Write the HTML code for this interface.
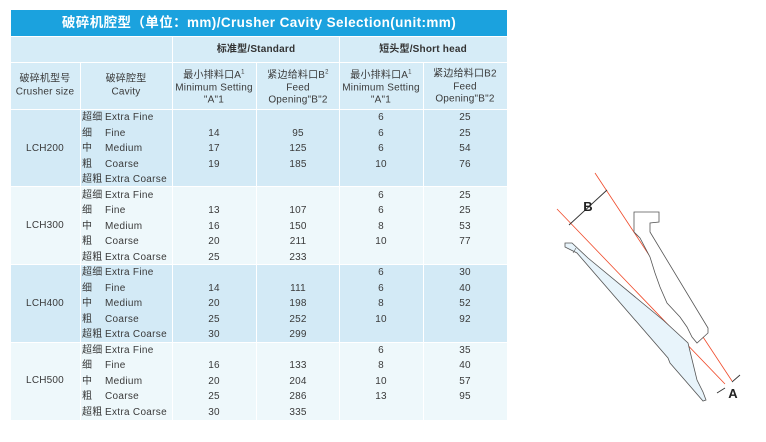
<!DOCTYPE html>
<html><head><meta charset="utf-8"><style>
body{margin:0;width:766px;height:442px;background:#fff;position:relative;overflow:hidden;font-family:"Liberation Sans","Noto Sans CJK SC",sans-serif;color:#3a3a3a}
.b{position:absolute}
.t{position:absolute;font-size:10px;line-height:12px;white-space:nowrap;transform:translate(-50%,-50%);text-align:center;letter-spacing:0.2px}
.l{position:absolute;font-size:10px;line-height:12px;white-space:nowrap;transform:translateY(-50%);letter-spacing:0.3px}
.h{font-weight:bold;color:#333}
.hd{line-height:12.5px}
</style></head><body>
<div class="b" style="left:11px;top:10px;width:496px;height:26px;background:#1ba2de"></div>
<div class="t" style="left:259px;top:23px;color:#fff;font-weight:bold;font-size:13.5px;letter-spacing:0.4px">破碎机腔型（单位：mm)/Crusher Cavity Selection(unit:mm)</div>
<div class="b" style="left:11px;top:37px;width:496px;height:25px;background:#d6ecf7"></div>
<div class="b" style="left:11px;top:63px;width:496px;height:46px;background:#d6ecf7"></div>
<div class="b" style="left:11px;top:110px;width:496px;height:76px;background:#d3eaf6"></div>
<div class="b" style="left:11px;top:187px;width:496px;height:77px;background:#eef8fb"></div>
<div class="b" style="left:11px;top:265px;width:496px;height:77px;background:#d3eaf6"></div>
<div class="b" style="left:11px;top:343px;width:496px;height:77px;background:#eef8fb"></div>
<div class="b" style="left:172px;top:37px;width:1px;height:383px;background:#fff"></div>
<div class="b" style="left:339px;top:37px;width:1px;height:383px;background:#fff"></div>
<div class="b" style="left:80px;top:63px;width:1px;height:357px;background:#fff"></div>
<div class="b" style="left:256px;top:63px;width:1px;height:357px;background:#fff"></div>
<div class="b" style="left:423px;top:63px;width:1px;height:357px;background:#fff"></div>
<div class="t h" style="left:256px;top:50px">标准型/Standard</div>
<div class="t h" style="left:423px;top:50px">短头型/Short head</div>
<div class="t hd" style="left:45px;top:86px">破碎机型号<br>Crusher size</div>
<div class="t hd" style="left:126px;top:86px">破碎腔型<br>Cavity</div>
<div class="t hd" style="left:214px;top:87px">最小排料口A<sup style="font-size:6px">1</sup><br>Minimum Setting<br>"A"1</div>
<div class="t hd" style="left:298px;top:87px">紧边给料口B<sup style="font-size:6px">2</sup><br>Feed<br>Opening"B"2</div>
<div class="t hd" style="left:381px;top:87px">最小排料口A<sup style="font-size:6px">1</sup><br>Minimum Setting<br>"A"1</div>
<div class="t hd" style="left:465px;top:87px">紧边给料口B2<br>Feed<br>Opening"B"2</div>
<div id="rows"></div>
<script>
var g=[["LCH200",110,["","14","17","19",""],["","95","125","185",""],["6","6","6","10",""],["25","25","54","76",""]],
["LCH300",187.5,["","13","16","20","25"],["","107","150","211","233"],["6","6","8","10",""],["25","25","53","77",""]],
["LCH400",265,["","14","20","25","30"],["","111","198","252","299"],["6","6","8","10",""],["30","40","52","92",""]],
["LCH500",342.5,["","16","20","25","30"],["","133","204","286","335"],["6","8","10","13",""],["35","40","57","95",""]]];
var cz=["超细","细","中","粗","超粗"],ce=["Extra Fine","Fine","Medium","Coarse","Extra Coarse"];
var h="";
g.forEach(function(r){var s=r[1];
h+='<div class="t" style="left:45px;top:'+(s+38.5)+'px">'+r[0]+'</div>';
for(var i=0;i<5;i++){var y=s+8+i*15.5;
h+='<div class="l" style="left:82px;top:'+y+'px">'+cz[i]+'</div><div class="l" style="left:105px;top:'+y+'px">'+ce[i]+'</div>';
[[214,2],[298,3],[381,4],[465,5]].forEach(function(c){h+='<div class="t" style="left:'+c[0]+'px;top:'+y+'px">'+r[c[1]][i]+'</div>';});}
});
document.getElementById("rows").innerHTML=h;
</script>
<svg class="b" style="left:0;top:0" width="766" height="442">
<g stroke="#f04a2a" stroke-width="0.8" fill="none">
<line x1="595" y1="173" x2="732" y2="381"/>
<line x1="557" y1="209" x2="725" y2="384"/>
</g>
<g stroke="#333" stroke-width="0.9">
<line x1="569" y1="225" x2="607" y2="190"/>
<line x1="717" y1="393" x2="725" y2="388"/>
<line x1="732" y1="382" x2="740" y2="375"/>
</g>
<text x="588" y="211" text-anchor="middle" font-family="Liberation Sans" font-weight="bold" font-size="13" fill="#222">B</text>
<text x="733" y="398" text-anchor="middle" font-family="Liberation Sans" font-weight="bold" font-size="13" fill="#222">A</text>
<path d="M634 212 L659 212 L659 222 L650 223 L650 232 L708 328 L708 333 L697 343 L692 337 L687 327 L680 317 L667 303 L660 287 L655 273 L650 257 L640 238 L634 232 Z" fill="#fff" stroke="#555" stroke-width="0.8"/>
<path d="M565 243 L572 243 L588 258 L663 320 L688 343 L697 380 L703 392 L706 400 L703 401 L670 363 L668 358 L577 253 L565 247 Z" fill="#e8f4fb" stroke="#555" stroke-width="0.8"/>
<line x1="573" y1="253" x2="576" y2="248" stroke="#555" stroke-width="0.6"/>
</svg>
</body></html>
